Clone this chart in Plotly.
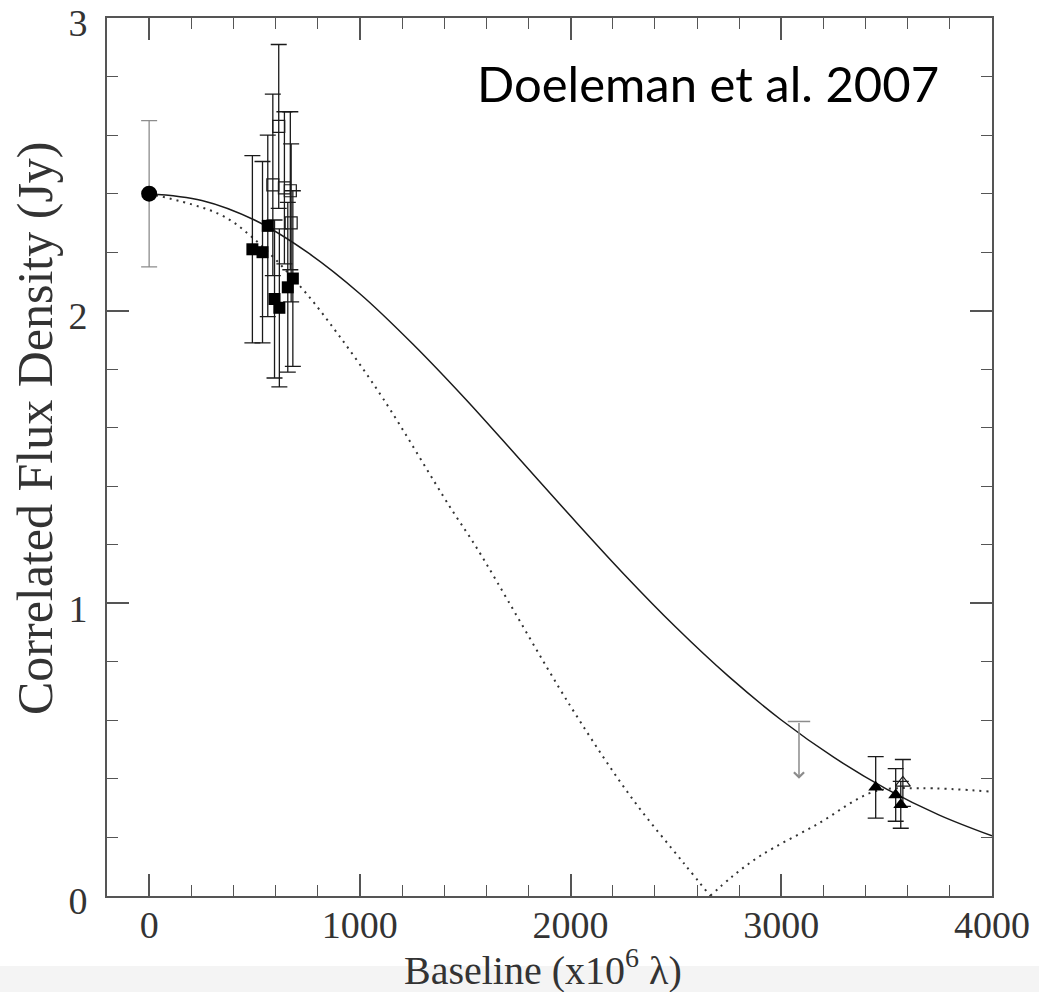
import plotly.graph_objects as go

# ---- model curves ----
gauss_x = [0, 250, 500, 750, 1000, 1250, 1500, 1750, 2000, 2250, 2500, 2750, 3000, 3250, 3500, 3750, 4000]
gauss_y = [2.40, 2.377, 2.31, 2.20, 2.058, 1.887, 1.699, 1.499, 1.298, 1.102, 0.918, 0.750, 0.601, 0.473, 0.365, 0.276, 0.205]

ring_left_x = [0, 333, 491, 721, 896, 1110, 1427, 1554, 1998, 2291, 2537, 2663]
ring_left_y = [2.40, 2.33, 2.25, 2.08, 1.92, 1.70, 1.33, 1.19, 0.65, 0.334, 0.112, 0.0]
ring_right_x = [2663, 2767, 2901, 3171, 3440, 3662, 4000]
ring_right_y = [0.0, 0.066, 0.137, 0.245, 0.356, 0.368, 0.356]

# ---- measurements ----
circle_x = [0]
circle_y = [2.40]
circle_err = [0.25]

fsq_x = [490, 538, 563, 595, 618, 658, 682]
fsq_y = [2.21, 2.20, 2.29, 2.04, 2.01, 2.08, 2.11]
fsq_err = [0.32, 0.31, 0.31, 0.27, 0.27, 0.29, 0.30]

osq_x = [587, 615, 642, 670, 674]
osq_y = [2.43, 2.63, 2.42, 2.41, 2.30]
osq_err = [0.31, 0.28, 0.26, 0.27, 0.27]

ftri_x = [3448, 3543, 3567]
ftri_y = [0.371, 0.345, 0.311]
ftri_err = [0.105, 0.09, 0.08]

otri_x = [3577]
otri_y = [0.386]
otri_err = [0.08]

limit_x = [3084]
limit_top = [0.596]
limit_head = [0.40]

x_ticks = [0, 1000, 2000, 3000, 4000]
y_ticks = [0, 1, 2, 3]

DARK = "#1a1a1a"
GREY = "#8c8c8c"
AXC = "#555555"

fig = go.Figure()

fig.add_trace(go.Scatter(x=gauss_x, y=gauss_y, mode="lines",
                         line=dict(color=DARK, width=1.5, shape="spline"),
                         showlegend=False, hoverinfo="skip"))
for rx, ry in ((ring_left_x, ring_left_y), (ring_right_x, ring_right_y)):
    fig.add_trace(go.Scatter(x=rx, y=ry, mode="lines",
                             line=dict(color="#333333", width=2, shape="spline",
                                       dash="2px,5px"),
                             showlegend=False, hoverinfo="skip"))

def err(vals, color, w=8):
    return dict(type="data", array=vals, visible=True, color=color,
                thickness=1.3, width=w)

fig.add_trace(go.Scatter(x=circle_x, y=circle_y, mode="markers",
                         marker=dict(symbol="circle", size=16, color="black"),
                         error_y=err(circle_err, GREY), showlegend=False))
fig.add_trace(go.Scatter(x=osq_x, y=osq_y, mode="markers",
                         marker=dict(symbol="square-open", size=12, color=DARK,
                                     line=dict(width=1.2, color=DARK)),
                         error_y=err(osq_err, DARK), showlegend=False))
fig.add_trace(go.Scatter(x=fsq_x, y=fsq_y, mode="markers",
                         marker=dict(symbol="square", size=12, color="black"),
                         error_y=err(fsq_err, DARK), showlegend=False))
fig.add_trace(go.Scatter(x=otri_x, y=otri_y, mode="markers",
                         marker=dict(symbol="triangle-up-open", size=13, color=DARK,
                                     line=dict(width=1.2, color=DARK)),
                         error_y=err(otri_err, DARK), showlegend=False))
fig.add_trace(go.Scatter(x=ftri_x, y=ftri_y, mode="markers",
                         marker=dict(symbol="triangle-up", size=13, color="black"),
                         error_y=err(ftri_err, DARK), showlegend=False))

# upper limit: cap + downward arrow
fig.add_trace(go.Scatter(x=limit_x, y=limit_top, mode="markers",
                         marker=dict(symbol="line-ew", size=16,
                                     line=dict(width=1.5, color=GREY)),
                         showlegend=False))
fig.add_annotation(x=limit_x[0], y=limit_head[0], ax=limit_x[0], ay=limit_top[0],
                   xref="x", yref="y", axref="x", ayref="y", text="",
                   showarrow=True, arrowhead=4, arrowsize=1.3, arrowwidth=1.5,
                   arrowcolor=GREY, standoff=0, startstandoff=0)

fig.add_annotation(x=2654, y=2.78, xref="x", yref="y", text="Doeleman et al. 2007",
                   showarrow=False, xanchor="center", yanchor="middle",
                   font=dict(family="Lato", size=49, color="black"))

# axis titles
fig.add_annotation(x=(543 - 107) / 885.0, y=-(968 - 896) / 878.0, xref="paper", yref="paper",
                   text="Baseline (x10<sup>6</sup> λ)", showarrow=False,
                   xanchor="center", yanchor="middle",
                   font=dict(family="Liberation Serif", size=40, color="#333333"))
fig.add_annotation(x=(35 - 107) / 885.0, y=(896 - 428) / 878.0, xref="paper", yref="paper",
                   text="Correlated Flux Density (Jy)", showarrow=False, textangle=-90,
                   xanchor="center", yanchor="middle",
                   font=dict(family="Liberation Serif", size=50, color="#333333"))

axis_common = dict(showline=True, linecolor=AXC, linewidth=2, mirror="allticks",
                   ticks="inside", ticklen=22, tickwidth=1.5, tickcolor=AXC,
                   showgrid=False, zeroline=False, automargin=False,
                   ticklabeloverflow="allow")

fig.update_xaxes(range=[-200, 4000], tickmode="array", tickvals=x_ticks,
                 minor=dict(ticks="inside", ticklen=11, tickwidth=1.3, dtick=200,
                            tick0=0, tickcolor=AXC, showgrid=False),
                 ticklabelstandoff=-6,
                 tickfont=dict(family="Liberation Serif", size=38, color="#333333"),
                 **axis_common)
fig.update_yaxes(range=[-0.0005, 3.0005], tickmode="array", tickvals=y_ticks,
                 minor=dict(ticks="inside", ticklen=11, tickwidth=1.3, dtick=0.2,
                            tick0=0, tickcolor=AXC, showgrid=False),
                 ticklabelstandoff=10, ticklabelshift=5,
                 tickfont=dict(family="Liberation Serif", size=38, color="#333333"),
                 **axis_common)

fig.add_shape(type="rect", xref="paper", yref="paper", x0=-0.2, x1=1.1,
              y0=-(966 - 896) / 878.0, y1=-(992 - 896) / 878.0 - 0.01,
              fillcolor="#f4f4f4", line=dict(width=0), layer="below")

fig.update_layout(width=1039, height=992,
                  margin=dict(l=107, r=47, t=18, b=96, autoexpand=False),
                  paper_bgcolor="white", plot_bgcolor="white",
                  showlegend=False)

fig.write_html("out.html")
